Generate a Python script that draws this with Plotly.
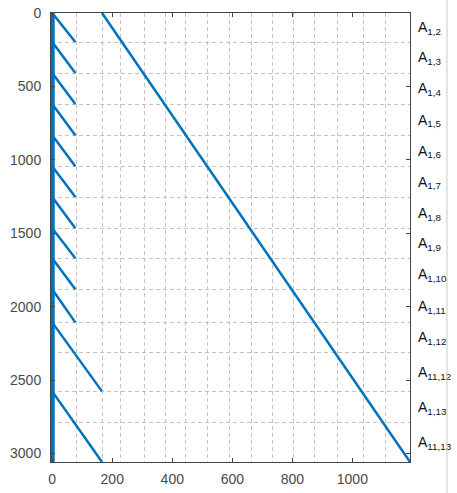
import plotly.graph_objects as go

# ---- data ----
# row boundaries of the blocks (top to bottom)
block_bounds = [0, 198, 409, 620, 832, 1043, 1254, 1466, 1670, 1882, 2107, 2311, 2577, 2789, 3058]
block_labels = ["A<sub>1,2</sub>", "A<sub>1,3</sub>", "A<sub>1,4</sub>", "A<sub>1,5</sub>",
                "A<sub>1,6</sub>", "A<sub>1,7</sub>", "A<sub>1,8</sub>", "A<sub>1,9</sub>",
                "A<sub>1,10</sub>", "A<sub>1,11</sub>", "A<sub>1,12</sub>", "A<sub>11,12</sub>",
                "A<sub>1,13</sub>", "A<sub>11,13</sub>"]
# diagonal segments: start (x, y) -> end (x, y)
diag_x0 = [0, 0, 0, 0, 0, 0, 0, 0, 0, 0, 0, 0, 166]
diag_y0 = [0, 198, 409, 620, 832, 1043, 1254, 1466, 1670, 1882, 2107, 2577, 0]
diag_x1 = [77, 77, 77, 77, 77, 77, 77, 77, 77, 77, 166, 166, 1192]
diag_y1 = [198, 409, 620, 832, 1043, 1254, 1466, 1670, 1882, 2107, 2577, 3058, 3058]
# vertical band at the first column
vert_x = [0, 0]
vert_y = [0, 3058]
# vertical grid line positions
xgrid_vals = [80, 166, 229, 307, 376, 445, 517, 589, 663, 733, 804, 875, 949, 1038, 1112]
x_ticks = [0, 200, 400, 600, 800, 1000]
y_ticks = [0, 500, 1000, 1500, 2000, 2500, 3000]

BLUE = "#0072BD"
AX = "#444444"
GRID = "#c4c4c4"

fig = go.Figure()

fig.add_trace(go.Scatter(x=vert_x, y=vert_y, mode="lines",
                         line=dict(color=BLUE, width=5), showlegend=False, hoverinfo="skip"))

xs, ys = [], []
for a, b, c, d in zip(diag_x0, diag_y0, diag_x1, diag_y1):
    xs += [a, c, None]
    ys += [b, d, None]
fig.add_trace(go.Scatter(x=xs, y=ys, mode="lines",
                         line=dict(color=BLUE, width=2.5), showlegend=False, hoverinfo="skip"))

# invisible trace for the right axis
centers = [(block_bounds[i] + block_bounds[i + 1]) / 2 for i in range(len(block_bounds) - 1)]
fig.add_trace(go.Scatter(x=[None], y=[None], yaxis="y2", showlegend=False))

xmax = diag_x1[-1]
ymax = block_bounds[-1]

fig.update_layout(
    width=457, height=493,
    margin=dict(l=51, r=47, t=13, b=31),
    paper_bgcolor="white", plot_bgcolor="white",
    font=dict(family="Liberation Sans, Arial, sans-serif", size=14, color="#4a4a4a"),
    xaxis=dict(range=[-4, xmax], tickvals=x_ticks, ticks="inside", ticklen=4, tickcolor=AX,
               showline=True, linecolor=AX, linewidth=1, mirror="ticks", showgrid=False,
               zeroline=False, ticklabelstandoff=4, automargin=False,
               ticklabeloverflow="allow",
               minor=dict(tickvals=xgrid_vals, showgrid=True, gridcolor=GRID,
                          griddash="4px,3px", gridwidth=1, ticks="")),
    yaxis=dict(range=[ymax, 0], tickvals=y_ticks, ticks="inside", ticklen=4, tickcolor=AX,
               showline=True, linecolor=AX, linewidth=1, mirror="ticks", showgrid=False,
               zeroline=False, ticklabelstandoff=6, automargin=False,
               ticklabeloverflow="allow",
               minor=dict(tickvals=block_bounds[1:-1], showgrid=True, gridcolor=GRID,
                          griddash="4px,3px", gridwidth=1, ticks="")),
    yaxis2=dict(range=[ymax, 0], overlaying="y", side="right", tickvals=centers,
                ticktext=block_labels, ticks="", showgrid=False, zeroline=False,
                showline=False, tickfont=dict(size=14, color="#111111"),
                ticklabelstandoff=7, automargin=False, ticklabeloverflow="allow"),
    shapes=[dict(type="line", xref="paper", yref="paper", x0=1.103, x1=1.103,
                 y0=-0.08, y1=1.04, line=dict(color="#c8c8c8", width=1))],
)

fig.write_html("out.html", config={"displayModeBar": False},
               post_script="document.body.style.margin='0';document.body.style.overflow='hidden';")
